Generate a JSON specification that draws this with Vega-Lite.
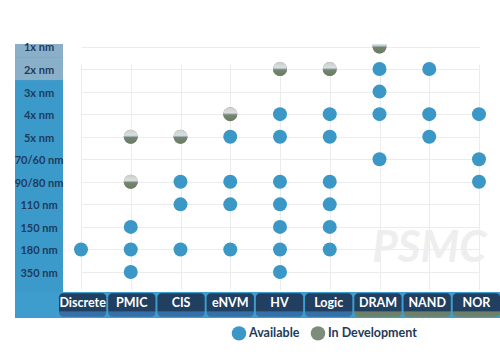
{
  "$schema": "https://vega.github.io/schema/vega-lite/v6.json",
  "padding": {"left": 14, "top": 42, "right": 0, "bottom": 16},
  "background": "white",
  "config": {
    "view": {"stroke": null},
    "font": "Lato",
    "legend": {"padding": 0}
  },
  "datasets": {
    "nodes": [
      {"node": "1x nm"}, {"node": "2x nm"}, {"node": "3x nm"}, {"node": "4x nm"}, {"node": "5x nm"},
      {"node": "70/60 nm"}, {"node": "90/80 nm"}, {"node": "110 nm"}, {"node": "150 nm"}, {"node": "180 nm"}, {"node": "350 nm"}
    ],
    "techs": [
      {"tech": "Discrete"}, {"tech": "PMIC"}, {"tech": "CIS"}, {"tech": "eNVM"}, {"tech": "HV"},
      {"tech": "Logic"}, {"tech": "DRAM"}, {"tech": "NAND"}, {"tech": "NOR"}
    ],
    "dots": [
      {"node": "1x nm", "tech": "DRAM", "status": "In Development"},
      {"node": "2x nm", "tech": "HV", "status": "In Development"},
      {"node": "2x nm", "tech": "Logic", "status": "In Development"},
      {"node": "2x nm", "tech": "DRAM", "status": "Available"},
      {"node": "2x nm", "tech": "NAND", "status": "Available"},
      {"node": "3x nm", "tech": "DRAM", "status": "Available"},
      {"node": "4x nm", "tech": "eNVM", "status": "In Development"},
      {"node": "4x nm", "tech": "HV", "status": "Available"},
      {"node": "4x nm", "tech": "Logic", "status": "Available"},
      {"node": "4x nm", "tech": "DRAM", "status": "Available"},
      {"node": "4x nm", "tech": "NAND", "status": "Available"},
      {"node": "4x nm", "tech": "NOR", "status": "Available"},
      {"node": "5x nm", "tech": "PMIC", "status": "In Development"},
      {"node": "5x nm", "tech": "CIS", "status": "In Development"},
      {"node": "5x nm", "tech": "eNVM", "status": "Available"},
      {"node": "5x nm", "tech": "HV", "status": "Available"},
      {"node": "5x nm", "tech": "Logic", "status": "Available"},
      {"node": "5x nm", "tech": "NAND", "status": "Available"},
      {"node": "70/60 nm", "tech": "DRAM", "status": "Available"},
      {"node": "70/60 nm", "tech": "NOR", "status": "Available"},
      {"node": "90/80 nm", "tech": "PMIC", "status": "In Development"},
      {"node": "90/80 nm", "tech": "CIS", "status": "Available"},
      {"node": "90/80 nm", "tech": "eNVM", "status": "Available"},
      {"node": "90/80 nm", "tech": "HV", "status": "Available"},
      {"node": "90/80 nm", "tech": "Logic", "status": "Available"},
      {"node": "90/80 nm", "tech": "NOR", "status": "Available"},
      {"node": "110 nm", "tech": "CIS", "status": "Available"},
      {"node": "110 nm", "tech": "eNVM", "status": "Available"},
      {"node": "110 nm", "tech": "HV", "status": "Available"},
      {"node": "110 nm", "tech": "Logic", "status": "Available"},
      {"node": "150 nm", "tech": "PMIC", "status": "Available"},
      {"node": "150 nm", "tech": "HV", "status": "Available"},
      {"node": "150 nm", "tech": "Logic", "status": "Available"},
      {"node": "180 nm", "tech": "Discrete", "status": "Available"},
      {"node": "180 nm", "tech": "PMIC", "status": "Available"},
      {"node": "180 nm", "tech": "CIS", "status": "Available"},
      {"node": "180 nm", "tech": "eNVM", "status": "Available"},
      {"node": "180 nm", "tech": "HV", "status": "Available"},
      {"node": "180 nm", "tech": "Logic", "status": "Available"},
      {"node": "350 nm", "tech": "PMIC", "status": "Available"},
      {"node": "350 nm", "tech": "HV", "status": "Available"}
    ]
  },
  "spacing": 0,
  "vconcat": [
    {
      "spacing": 0,
      "hconcat": [
        {
          "width": 48,
          "height": 248,
          "view": {"fill": "#3B9ACA", "stroke": null},
          "data": {"name": "nodes"},
          "encoding": {
            "y": {
              "field": "node", "type": "nominal", "sort": null,
              "scale": {
                "domain": ["1x nm", "2x nm", "3x nm", "4x nm", "5x nm", "70/60 nm", "90/80 nm", "110 nm", "150 nm", "180 nm", "350 nm"],
                "range": [-8.8, 239.3], "paddingInner": 0, "paddingOuter": 0
              },
              "axis": null
            }
          },
          "layer": [
            {
              "mark": {"type": "rect", "clip": true},
              "encoding": {
                "color": {
                  "condition": {"test": "datum.node == '1x nm' || datum.node == '2x nm'", "value": "#8AB0C9"},
                  "value": "#3B9ACA"
                }
              }
            },
            {
              "mark": {"type": "text", "font": "Lato", "fontSize": 11, "fontWeight": "bold", "color": "#1F3B5C", "dy": 2},
              "encoding": {"text": {"field": "node"}}
            }
          ]
        },
        {
          "width": 438,
          "height": 248,
          "data": {"name": "dots"},
          "encoding": {
            "x": {
              "field": "tech", "type": "nominal",
              "scale": {"type": "point", "domain": ["Discrete", "PMIC", "CIS", "eNVM", "HV", "Logic", "DRAM", "NAND", "NOR"], "range": [17, 415], "padding": 0},
              "axis": {"labels": false, "ticks": false, "domain": false, "title": null, "grid": true, "gridColor": "#ececec", "gridWidth": 1}
            },
            "y": {
              "field": "node", "type": "nominal",
              "scale": {"type": "point", "domain": ["1x nm", "2x nm", "3x nm", "4x nm", "5x nm", "70/60 nm", "90/80 nm", "110 nm", "150 nm", "180 nm", "350 nm"], "range": [2.5, 228], "padding": 0},
              "axis": {"labels": false, "ticks": false, "domain": false, "title": null, "grid": true, "gridColor": "#ececec", "gridWidth": 1}
            }
          },
          "layer": [
            {
              "data": {"values": [{"label": "PSMC"}]},
              "mark": {"type": "text", "font": "Lato", "fontSize": 44, "fontWeight": "bold", "fontStyle": "italic", "color": "#eeeeee"},
              "encoding": {
                "x": {"datum": "NAND", "type": "nominal"},
                "y": {"datum": "180 nm", "type": "nominal"},
                "text": {"field": "label"}
              }
            },
            {
              "mark": {"type": "point", "filled": true, "shape": "circle", "size": 195, "opacity": 1, "clip": true},
              "encoding": {
                "color": {
                  "field": "status", "type": "nominal",
                  "scale": {"domain": ["Available", "In Development"], "range": ["#3A97C6", "#7E8C7C"]},
                  "legend": {
                    "orient": "none", "legendX": 216, "legendY": 281, "direction": "horizontal", "title": null,
                    "symbolSize": 210, "symbolType": "circle", "labelFont": "Lato", "labelFontWeight": "bold",
                    "labelFontSize": 12.5, "labelColor": "#1E3A5A", "columnPadding": 10, "labelOffset": 2
                  }
                }
              }
            },
            {
              "transform": [{"filter": "datum.status == 'In Development'"}],
              "mark": {
                "type": "point", "filled": true, "shape": "circle", "size": 195, "opacity": 1, "clip": true,
                "color": {
                  "gradient": "linear", "x1": 0, "y1": 0, "x2": 0, "y2": 1,
                  "stops": [
                    {"offset": 0, "color": "#c9cdcc"},
                    {"offset": 0.4, "color": "#dcdfde"},
                    {"offset": 0.48, "color": "#9fb4bf"},
                    {"offset": 0.56, "color": "#74846e"},
                    {"offset": 1, "color": "#6b7b63"}
                  ]
                }
              }
            }
          ]
        }
      ]
    },
    {
      "width": 486,
      "height": 26,
      "view": {"fill": "#3E9DCC", "stroke": null},
      "data": {"name": "techs"},
      "encoding": {
        "x": {
          "field": "tech", "type": "nominal", "sort": null,
          "scale": {"domain": ["Discrete", "PMIC", "CIS", "eNVM", "HV", "Logic", "DRAM", "NAND", "NOR"], "range": [43, 486], "paddingInner": 0.04, "paddingOuter": 0.02},
          "axis": null
        },
        "y": {"datum": "tab", "type": "nominal", "scale": {"paddingInner": 0.1, "paddingOuter": 0.05}, "axis": null}
      },
      "layer": [
        {
          "transform": [{"filter": "indexof(['DRAM','NAND','NOR'], datum.tech) < 0"}],
          "mark": {
            "type": "rect", "cornerRadius": 4,
            "color": {
              "gradient": "linear", "x1": 0, "y1": 0, "x2": 0, "y2": 1,
              "stops": [
                {"offset": 0, "color": "#213f60"},
                {"offset": 0.74, "color": "#213f60"},
                {"offset": 0.8, "color": "#3570a8"},
                {"offset": 1, "color": "#3570a8"}
              ]
            }
          }
        },
        {
          "transform": [{"filter": "indexof(['DRAM','NAND','NOR'], datum.tech) >= 0"}],
          "mark": {
            "type": "rect", "cornerRadius": 4,
            "color": {
              "gradient": "linear", "x1": 0, "y1": 0, "x2": 0, "y2": 1,
              "stops": [
                {"offset": 0, "color": "#213f60"},
                {"offset": 0.74, "color": "#213f60"},
                {"offset": 0.8, "color": "#6e8168"},
                {"offset": 1, "color": "#6e8168"}
              ]
            }
          }
        },
        {
          "mark": {"type": "text", "font": "Lato", "fontSize": 12.5, "fontWeight": "bold", "color": "white", "dy": -2},
          "encoding": {"text": {"field": "tech"}}
        }
      ]
    }
  ]
}
